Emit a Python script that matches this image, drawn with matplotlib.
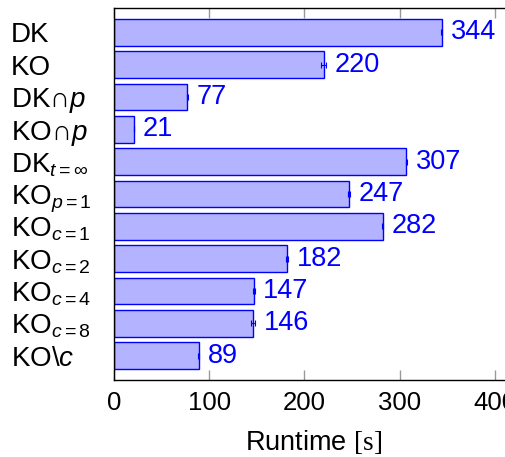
import numpy as np
import matplotlib
matplotlib.use('Agg')
import matplotlib.pyplot as plt

labels = [r'DK', r'KO', r'DK$\cap p$', r'KO$\cap p$', r'DK$_{t=\infty}$',
          r'KO$_{p=1}$', r'KO$_{c=1}$', r'KO$_{c=2}$', r'KO$_{c=4}$',
          r'KO$_{c=8}$', r'KO$\backslash c$']
runtime = [344, 220, 77, 21, 307, 247, 282, 182, 147, 146, 89]
errors = [0.8, 2.5, 0.8, 0.5, 0.8, 0.8, 0.8, 1.0, 1.0, 2.5, 0.5]

plt.rcParams['font.family'] = ['Liberation Sans', 'DejaVu Sans']
plt.rcParams['mathtext.fontset'] = 'custom'
plt.rcParams['mathtext.rm'] = 'Liberation Sans'
plt.rcParams['mathtext.it'] = 'Liberation Sans:italic'
plt.rcParams['mathtext.sf'] = 'Liberation Sans'
plt.rcParams['mathtext.tt'] = 'Liberation Serif'

fig = plt.figure(figsize=(5.06, 4.57), dpi=100)
ax = fig.add_axes([114 / 506, 77 / 457, 400 / 506, 372 / 457])

y = np.arange(len(runtime))
ax.barh(y, runtime, height=0.82, color='#B3B3FF', edgecolor='#0000FF', linewidth=1,
        xerr=errors, error_kw=dict(ecolor='#0000FF', elinewidth=0.8, capsize=2.5, capthick=0.8))

for i, (v, e) in enumerate(zip(runtime, errors)):
    ax.annotate(str(v), (v + e, i), xytext=(6, 0), textcoords='offset points',
                va='center', ha='left', color='#0000FF', fontsize=19.5)

ax.set_xlim(0, 420)
ax.set_ylim(10.75, -0.75)
ax.set_xticks([0, 100, 200, 300, 400])
ax.set_yticks(y)
ax.set_yticklabels(labels, ha='left')
ax.tick_params(axis='y', length=0, pad=74.5, labelsize=20)
ax.tick_params(axis='x', direction='in', top=True, bottom=True, length=7.5,
               color='#999999', width=1, pad=8, labelsize=18.5)
ax.spines['right'].set_visible(False)
for s in ['left', 'top', 'bottom']:
    ax.spines[s].set_linewidth(1)
ax.set_xlabel(r'Runtime $\mathtt{[s]}$', fontsize=19.5, labelpad=9)

fig.savefig('out.png', dpi=100)
